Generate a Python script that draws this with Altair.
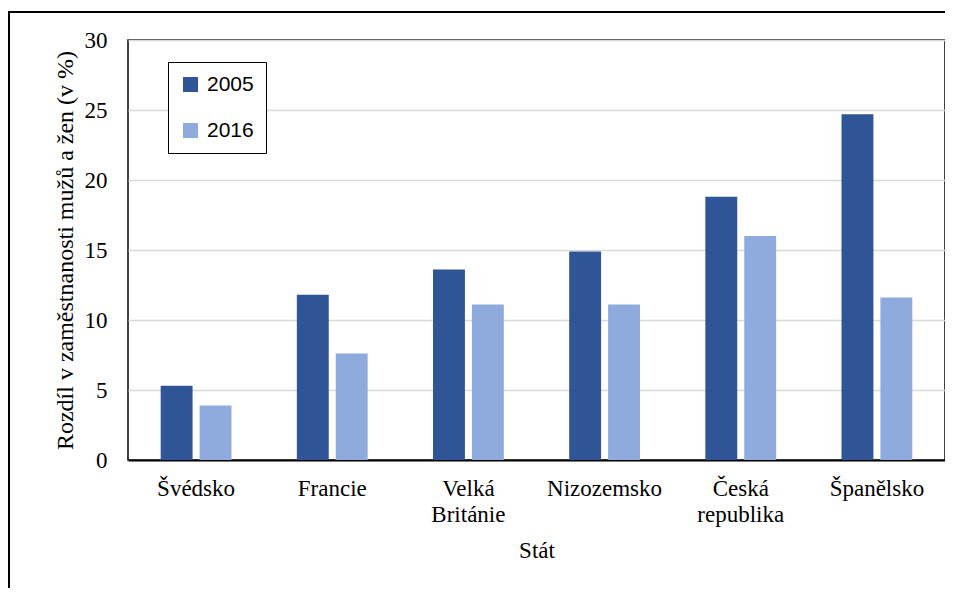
import altair as alt
import pandas as pd

countries = ["Švédsko", "Francie", "Velká Británie", "Nizozemsko", "Česká republika", "Španělsko"]
years = ["2005", "2016"]
values_2005 = [5.3, 11.8, 13.6, 14.9, 18.8, 24.7]
values_2016 = [3.9, 7.6, 11.1, 11.1, 16.0, 11.6]
colors = ["#2F5597", "#8FAADC"]

rows = []
for c, a, b in zip(countries, values_2005, values_2016):
    rows.append({"Stát": c, "Rok": "2005", "Hodnota": a})
    rows.append({"Stát": c, "Rok": "2016", "Hodnota": b})
df = pd.DataFrame(rows)

serif = "Liberation Serif"
W, H = 817, 420

bars = alt.Chart(df).mark_bar().encode(
    x=alt.X("Stát:N", sort=countries,
            scale=alt.Scale(paddingInner=0.48, paddingOuter=0.24),
            axis=alt.Axis(title="Stát", labelAngle=0, ticks=False,
                          labelExpr="split(datum.label, ' ')",
                          labelFont=serif, labelFontSize=23, labelColor="black",
                          labelLineHeight=26, labelPadding=17,
                          titleFont=serif, titleFontSize=23, titleFontWeight="normal",
                          titleColor="black", titlePadding=13,
                          domainColor="black", domainWidth=2)),
    xOffset=alt.XOffset("Rok:N", sort=years, scale=alt.Scale(paddingInner=0.18)),
    y=alt.Y("Hodnota:Q", scale=alt.Scale(domain=[0, 30]),
            axis=alt.Axis(title="Rozdíl v zaměstnanosti mužů a žen (v %)",
                          values=[0, 5, 10, 15, 20, 25, 30], ticks=False, domain=False,
                          labelFont=serif, labelFontSize=23, labelColor="black",
                          labelPadding=21,
                          titleFont=serif, titleFontSize=24, titleFontWeight="normal",
                          titleColor="black", titlePadding=7,
                          gridColor="#d9d9d9", gridWidth=1.5)),
    color=alt.Color("Rok:N", sort=years,
                    scale=alt.Scale(domain=years, range=colors),
                    legend=alt.Legend(title=None, orient="none", legendX=40, legendY=22,
                                      strokeColor="black", fillColor="white",
                                      padding=12, symbolType="square", symbolSize=225,
                                      symbolStrokeWidth=0, rowPadding=24,
                                      labelFont="Liberation Sans", labelFontSize=21,
                                      labelColor="black", labelOffset=6)),
)

frame = alt.Chart(pd.DataFrame({"a": [0]})).mark_rect(
    fill=None, stroke="black", strokeWidth=2, clip=False
).encode(
    x=alt.value(-119), x2=alt.value(W + 200),
    y=alt.value(-28), y2=alt.value(H + 300),
)

chart = alt.layer(frame, bars).properties(
    width=W, height=H,
    padding={"left": 120, "top": 32, "right": 0, "bottom": 128},
    autosize=alt.AutoSizeParams(type="none"),
).configure_view(stroke="black", strokeWidth=1.5)

chart.save("out.html", embed_options={"renderer": "svg", "actions": False})
